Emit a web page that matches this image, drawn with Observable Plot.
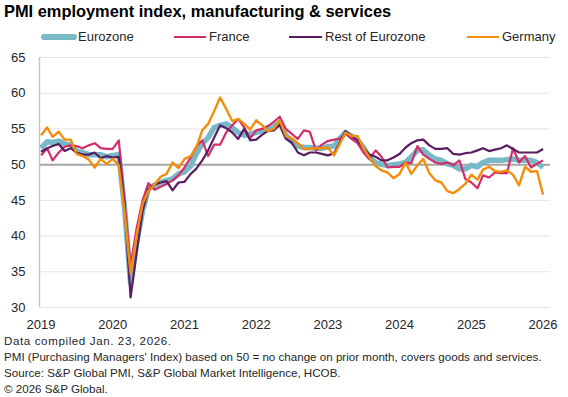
<!DOCTYPE html>
<html><head><meta charset="utf-8">
<script src="https://cdn.jsdelivr.net/npm/d3@7"></script>
<script src="https://cdn.jsdelivr.net/npm/@observablehq/plot@0.6"></script>
<style>
body{margin:0;background:#fff;font-family:Arial,"Liberation Sans",sans-serif;}
#wrap{position:relative;width:568px;height:397px;overflow:hidden;background:#fff;}
#title{position:absolute;left:4px;top:2.5px;font-weight:bold;font-size:16.4px;line-height:17px;color:#000;white-space:nowrap;}
.legtxt{position:absolute;top:30px;font-size:13px;line-height:13px;color:#262626;white-space:nowrap;}
.sw{position:absolute;}
#chart{position:absolute;left:0;top:46px;}
.cap{position:absolute;left:4px;font-size:11.6px;line-height:12px;color:#262626;white-space:nowrap;}
</style></head>
<body><div id="wrap">
<div id="title">PMI employment index, manufacturing &amp; services</div>
<div id="legend"></div>
<div id="chart"></div>
<div id="captions"></div>
</div>
<script>
// ---- data ----
const seriesNames = ["Eurozone", "France", "Rest of Eurozone", "Germany"];
const seriesColors = ["#78b8c7", "#d42d6c", "#5a1d62", "#f28e0c"];
const yearTicks = [2019, 2020, 2021, 2022, 2023, 2024, 2025, 2026];
const yTicks = [30, 35, 40, 45, 50, 55, 60, 65];
const captionLines = [
  "Data compiled Jan. 23, 2026.",
  "PMI (Purchasing Managers' Index) based on 50 = no change on prior month, covers goods and services.",
  "Source: S&P Global PMI, S&P Global Market Intelligence, HCOB.",
  "\u00a9 2026 S&P Global."
];
// monthly, Jan 2019 .. Jan 2026
const eurozone = [
  52.3, 53.2, 53.1, 53.3, 52.9, 52.8, 51.9, 51.7, 51.4, 51.4, 51.4, 51.1,
  51.3, 51.4, 44.0, 33.4, 39.0, 43.5, 46.7, 47.1, 47.5, 47.8, 48.0, 48.7,
  49.0, 49.8, 51.5, 52.9, 53.8, 55.2, 55.5, 55.7, 55.2, 54.5, 54.1, 54.3,
  54.5, 54.8, 55.1, 55.3, 55.9, 54.1, 53.2, 52.6, 52.4, 52.4, 52.3, 52.3,
  52.5, 52.6, 53.6, 54.5, 54.0, 53.4, 52.4, 51.0, 50.3, 50.0, 49.9, 50.0,
  50.1, 50.3, 51.1, 52.0, 52.1, 51.3, 50.8, 50.6, 50.1, 49.9, 49.4, 49.4,
  49.9, 49.7, 50.3, 50.6, 50.6, 50.6, 50.7, 50.8, 50.6, 50.6, 50.6, 50.3,
  49.6
];
const france = [
  51.3, 52.3, 50.6, 51.7, 52.5, 52.7, 52.6, 52.3, 52.7, 53.0, 52.3, 52.2,
  52.2, 53.4, 44.8, 35.9, 41.0, 45.0, 47.4, 46.5, 46.9, 47.3, 47.8, 48.5,
  49.6, 51.0, 52.5, 53.4, 51.2, 52.8, 52.8, 54.5, 55.5, 56.4, 55.2, 53.7,
  54.8, 55.0, 55.4, 56.0, 56.7, 55.0, 54.3, 53.6, 54.8, 54.6, 52.0, 52.8,
  53.3, 53.5, 53.6, 54.4, 53.6, 53.0, 51.7, 50.8, 52.0, 51.1, 49.6, 49.7,
  49.7, 50.3, 50.2, 52.6, 51.4, 50.8, 50.3, 50.1, 50.3, 49.9, 50.6, 48.0,
  47.5, 46.7, 48.5, 48.2, 48.9, 48.8, 48.8, 52.3, 50.3, 51.2, 49.6, 50.1,
  50.6
];
const restOfEurozone = [
  51.8, 52.3, 52.6, 52.9, 51.9, 52.3, 51.7, 51.4, 51.4, 51.7, 50.9, 51.2,
  51.0, 51.1, 44.5, 31.4, 37.5, 43.5, 46.5, 47.2, 47.5, 47.7, 46.4, 47.5,
  47.6, 48.7, 49.4, 50.6, 52.0, 53.8, 55.5, 55.1, 54.5, 53.6, 55.0, 53.4,
  53.5, 54.2, 54.7, 54.8, 55.6, 53.6, 53.1, 51.7, 51.3, 51.7, 51.7, 51.5,
  51.3, 51.6, 53.0, 54.7, 54.0, 53.4, 52.3, 51.4, 51.1, 50.6, 50.6, 51.0,
  51.5, 52.4, 53.0, 53.4, 53.5, 52.7, 52.2, 52.2, 52.3, 51.5, 51.4, 51.6,
  51.7, 52.0, 52.3, 51.9, 52.1, 52.3, 52.7, 52.2, 51.7, 51.7, 51.7, 51.7,
  52.2
];
const germany = [
  54.1, 55.2, 53.9, 54.6, 53.5, 53.5, 51.5, 51.2, 50.7, 49.6, 50.8, 50.1,
  50.8, 49.9, 43.5, 34.7, 40.0, 44.5, 46.3, 47.2, 48.3, 48.7, 50.3, 49.5,
  50.8, 51.2, 52.3, 54.8, 55.7, 57.5, 59.4, 57.8, 56.1, 56.4, 55.7, 54.9,
  56.2, 55.5, 54.7, 55.0, 56.2, 54.0, 53.7, 53.0, 52.2, 52.2, 52.3, 52.3,
  52.4, 51.3, 52.8, 54.5, 54.0, 54.0, 52.3, 51.0, 49.8, 49.2, 48.9, 48.1,
  48.7, 50.3, 48.7, 49.9, 50.8, 48.8, 47.8, 47.5, 46.3, 46.0, 46.6, 47.3,
  48.6, 47.9, 49.3, 49.7, 49.1, 49.0, 49.2, 48.6, 47.1, 49.7, 49.0, 49.1,
  45.8
];
const seriesValues = [eurozone, france, restOfEurozone, germany];

// ---- build ----
const months = d3.utcMonth.range(new Date(Date.UTC(2019, 0, 1)), new Date(Date.UTC(2026, 1, 1)));
const rows = [];
seriesNames.forEach((name, s) => {
  seriesValues[s].forEach((v, i) => rows.push({series: name, date: months[i], value: v}));
});

const widths = [5.5, 2.2, 2.2, 2.4];
const xStart = new Date(Date.UTC(2018, 11, 24));
const xEnd = new Date(Date.UTC(2026, 1, 8));

const chart = Plot.plot({
  width: 568,
  height: 290,
  marginLeft: 39,
  marginRight: 18,
  marginTop: 11,
  marginBottom: 29,
  style: {fontSize: "13px", fontFamily: "Arial, 'Liberation Sans', sans-serif", color: "#262626", background: "white", overflow: "visible"},
  x: {type: "utc", domain: [xStart, xEnd], ticks: yearTicks.map(y => new Date(Date.UTC(y, 0, 1))), tickFormat: d3.utcFormat("%Y"), tickSize: 0, tickPadding: 12, label: null},
  y: {domain: [30, 65], ticks: yTicks, tickSize: 0, tickPadding: 14, label: null},
  marks: [
    Plot.ruleY(yTicks, {stroke: "#e4e4e4", strokeWidth: 1}),
    Plot.ruleY([50], {stroke: "#a6a6a6", strokeWidth: 2}),
    Plot.ruleX([xStart], {y1: 30, y2: 65, stroke: "#c4c4c4", strokeWidth: 1.5}),
    ...seriesNames.map((name, s) => Plot.lineY(rows.filter(r => r.series === name), {
      x: "date", y: "value", stroke: seriesColors[s], strokeWidth: widths[s], strokeLinejoin: "round", strokeLinecap: "butt"
    }))
  ]
});
document.getElementById("chart").appendChild(chart);

// legend
const legSwatch = [[41, 77], [174, 206], [289, 322], [467, 499]];
const legText = [78, 209, 325, 502];
const leg = document.getElementById("legend");
seriesNames.forEach((name, s) => {
  const sw = document.createElement("div");
  sw.className = "sw";
  const h = s === 0 ? 5.5 : 2.2;
  sw.style.cssText = `left:${legSwatch[s][0]}px;width:${legSwatch[s][1] - legSwatch[s][0]}px;top:${37 - h / 2}px;height:${h}px;background:${seriesColors[s]};border-radius:${s === 0 ? 3 : 0}px`;
  leg.appendChild(sw);
  const t = document.createElement("div");
  t.className = "legtxt";
  t.style.left = legText[s] + "px";
  t.textContent = name;
  leg.appendChild(t);
});

// captions
const capTops = [335, 351, 367, 383];
const capSpacing = [0.6, 0, 0, 0];
const cap = document.getElementById("captions");
captionLines.forEach((line, i) => {
  const d = document.createElement("div");
  d.className = "cap";
  d.style.top = capTops[i] + "px";
  d.style.letterSpacing = capSpacing[i] + "px";
  d.textContent = line;
  cap.appendChild(d);
});
</script>
</body></html>
